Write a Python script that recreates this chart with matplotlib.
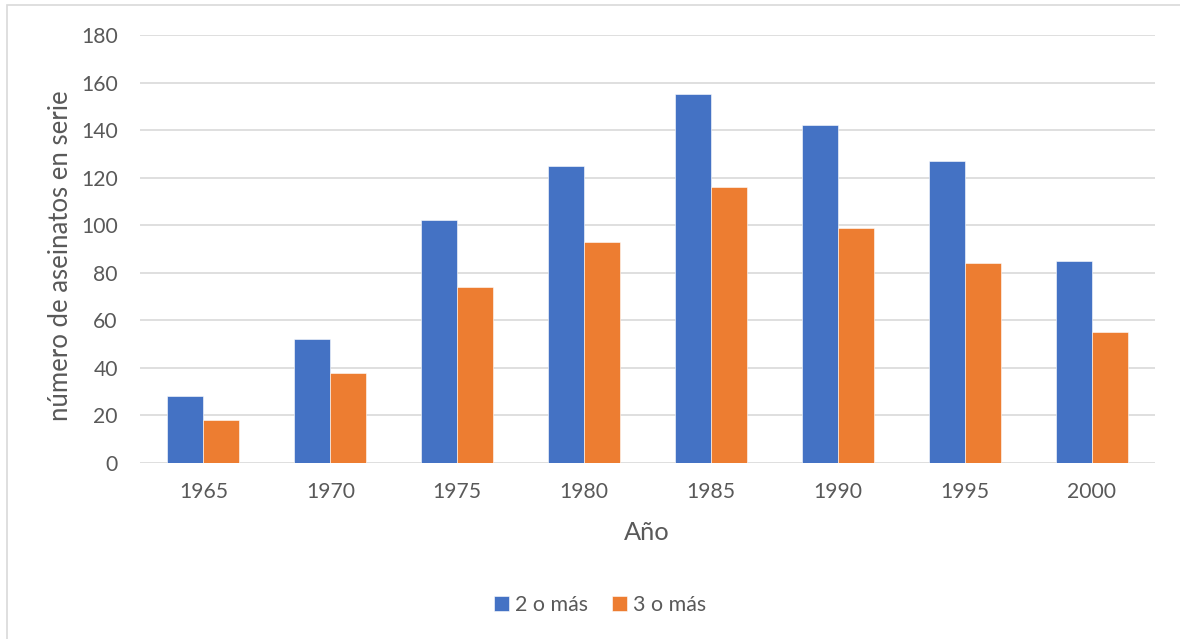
import matplotlib
matplotlib.use("Agg")
import matplotlib.pyplot as plt
import numpy as np
from matplotlib.patches import Rectangle

years = ["1965", "1970", "1975", "1980", "1985", "1990", "1995", "2000"]
dos_o_mas = [28, 52, 102, 125, 155, 142, 127, 85]
tres_o_mas = [18, 38, 74, 93, 116, 99, 84, 55]
series_names = ["2 o más", "3 o más"]
colors = ["#4472C4", "#ED7D31"]

plt.rcParams['font.family'] = ['Lato', 'DejaVu Sans']
W, H = 1180, 639
fig = plt.figure(figsize=(W/100, H/100), dpi=100)
ax = fig.add_axes([140/W, (H-463)/H, (1155-140)/W, (463-35)/H])

x = np.arange(len(years))
bw = 0.284
ax.bar(x - bw/2, dos_o_mas, bw, color=colors[0], label=series_names[0],
       edgecolor="white", linewidth=0.4, zorder=3)
ax.bar(x + bw/2, tres_o_mas, bw, color=colors[1], label=series_names[1],
       edgecolor="white", linewidth=0.4, zorder=3)

ax.set_xlim(-0.5, len(years) - 0.5)
ax.set_ylim(0, 180)
ax.set_yticks(np.arange(0, 181, 20))
ax.set_xticks(x)
ax.set_xticklabels(years)
ax.grid(axis='y', color='#d9d9d9', linewidth=1.2, zorder=0)
ax.set_axisbelow(True)
for s in ax.spines.values():
    s.set_visible(False)
ax.tick_params(axis='both', length=0, labelsize=15.2, labelcolor='#595959')
ax.tick_params(axis='y', pad=16)
ax.tick_params(axis='x', pad=14)

fig.text(60/W, (H-256)/H, "número de aseinatos en serie", rotation=90,
         ha='center', va='center', fontsize=18.5, color='#595959')
fig.text(647/W, (H-533)/H, "Año", ha='center', va='center',
         fontsize=18.3, color='#595959')

leg = fig.legend(loc='center', bbox_to_anchor=(600/W, (H-605)/H), ncol=2,
                 frameon=False, fontsize=15.4, handlelength=0.7,
                 handleheight=0.7, handletextpad=0.3, columnspacing=1.1)
for t in leg.get_texts():
    t.set_color('#595959')

fig.patches.append(Rectangle((7/W, -0.1), 1.2, (H-5)/H + 0.1,
                             transform=fig.transFigure, fill=False,
                             edgecolor='#d9d9d9', linewidth=1.2))

fig.savefig("out.png", dpi=100, facecolor='white')
